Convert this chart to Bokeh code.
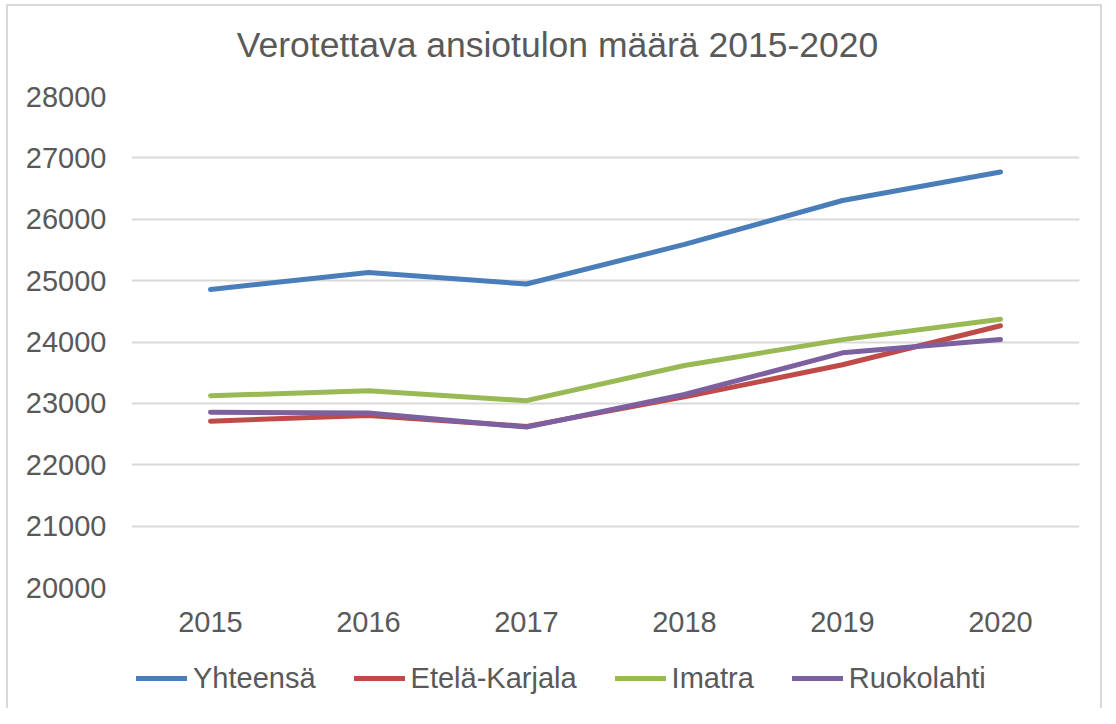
from bokeh.plotting import figure
from bokeh.layouts import column
from bokeh.models import FactorRange, Range1d, Legend, LegendItem, FixedTicker, Label
from bokeh.embed import file_html
from bokeh.resources import INLINE

title_text = "Verotettava ansiotulon määrä 2015-2020"
years = ["2015", "2016", "2017", "2018", "2019", "2020"]
series_names = ["Yhteensä", "Etelä-Karjala", "Imatra", "Ruokolahti"]
yhteensa = [24855, 25134, 24945, 25590, 26306, 26769]
etela_karjala = [22710, 22802, 22625, 23106, 23629, 24265]
imatra = [23124, 23205, 23044, 23618, 24039, 24371]
ruokolahti = [22855, 22844, 22613, 23145, 23823, 24039]
y_ticks = [20000, 21000, 22000, 23000, 24000, 25000, 26000, 27000, 28000]
colors = ["#4A7EBB", "#BE4B48", "#98B954", "#7D60A0"]
all_series = [yhteensa, etela_karjala, imatra, ruokolahti]

TEXT = "#595959"
FONT = "Liberation Sans"
W, H = 1104, 708
H_TITLE = 70
H_LEG = 58
H_MAIN = H - H_TITLE - H_LEG
FRAME_L, FRAME_R = 131, 25
FRAME_TOP, FRAME_BOTTOM = 96, 587


def blank_strip(height):
    f = figure(
        width=W, height=height,
        x_range=Range1d(0, 1), y_range=Range1d(0, 1),
        output_backend="svg", toolbar_location=None,
        x_axis_location=None, y_axis_location=None,
        min_border_left=FRAME_L, min_border_right=FRAME_R,
        min_border_top=0, min_border_bottom=0,
    )
    f.outline_line_color = None
    f.background_fill_color = None
    f.border_fill_color = None
    f.grid.grid_line_color = None
    return f


# title strip
tp = blank_strip(H_TITLE)
tp.add_layout(Label(
    x=557 - FRAME_L, y=H_TITLE - 44, x_units="screen", y_units="screen",
    text=title_text, text_align="center", text_baseline="middle",
    text_font=FONT, text_font_size="35.5px", text_color=TEXT,
))

# main chart
p = figure(
    width=W, height=H_MAIN,
    x_range=FactorRange(factors=years, range_padding=0),
    y_range=Range1d(20000, 28000),
    output_backend="svg", toolbar_location=None,
    min_border_left=FRAME_L, min_border_right=FRAME_R,
    min_border_top=FRAME_TOP - H_TITLE,
    min_border_bottom=H_MAIN - (FRAME_BOTTOM - H_TITLE),
)
p.outline_line_color = None
p.background_fill_color = None
p.border_fill_color = None

p.xgrid.grid_line_color = None
p.ygrid.grid_line_color = "#D9D9D9"
p.ygrid.grid_line_width = 2

p.yaxis.ticker = FixedTicker(ticks=y_ticks)
for ax in (p.xaxis, p.yaxis):
    ax.axis_line_color = None
    ax.major_tick_line_color = None
    ax.minor_tick_line_color = None
    ax.major_tick_in = 0
    ax.major_tick_out = 0
    ax.major_label_text_font = FONT
    ax.major_label_text_font_size = "29px"
    ax.major_label_text_color = TEXT
p.yaxis.major_label_standoff = 25
p.xaxis.major_label_standoff = 24
p.yaxis.formatter.use_scientific = False

for vals, col in zip(all_series, colors):
    p.line(years, vals, line_color=col, line_width=5, line_cap="round", line_join="round")

# legend strip: same series, drawn out of view, only their legend glyphs show
lp = figure(
    width=W, height=H_LEG,
    x_range=FactorRange(factors=years, range_padding=0),
    y_range=Range1d(0, 1),
    output_backend="svg", toolbar_location=None,
    x_axis_location=None, y_axis_location=None,
    min_border_left=FRAME_L, min_border_right=FRAME_R,
    min_border_top=0, min_border_bottom=0,
)
lp.outline_line_color = None
lp.background_fill_color = None
lp.border_fill_color = None
lp.grid.grid_line_color = None

leg_renderers = []
for vals, col in zip(all_series, colors):
    r = lp.line(years, vals, line_color=col, line_width=5, line_cap="round", line_join="round")
    leg_renderers.append(r)

legend = Legend(
    items=[LegendItem(label=n, renderers=[r]) for n, r in zip(series_names, leg_renderers)],
    orientation="horizontal",
    location=(5, 10),
    glyph_width=51, glyph_height=40,
    label_standoff=6, spacing=38, padding=0, margin=0,
    label_text_font=FONT, label_text_font_size="29px", label_text_color=TEXT,
    border_line_color=None, background_fill_alpha=0,
)
lp.add_layout(legend, "center")

layout = column(tp, p, lp, spacing=0)
line_img = "linear-gradient(#D9D9D9,#D9D9D9)"
layout.styles = {
    "background-color": "white",
    "background-image": ", ".join([line_img] * 3),
    "background-size": "2px %dpx, %dpx 2px, 2px %dpx" % (H - 4, W - 9, H - 4),
    "background-position": "6px 4px, 6px 4px, %dpx 4px" % (W - 4),
    "background-repeat": "no-repeat",
}

open("out.html", "w").write(file_html(layout, INLINE))
